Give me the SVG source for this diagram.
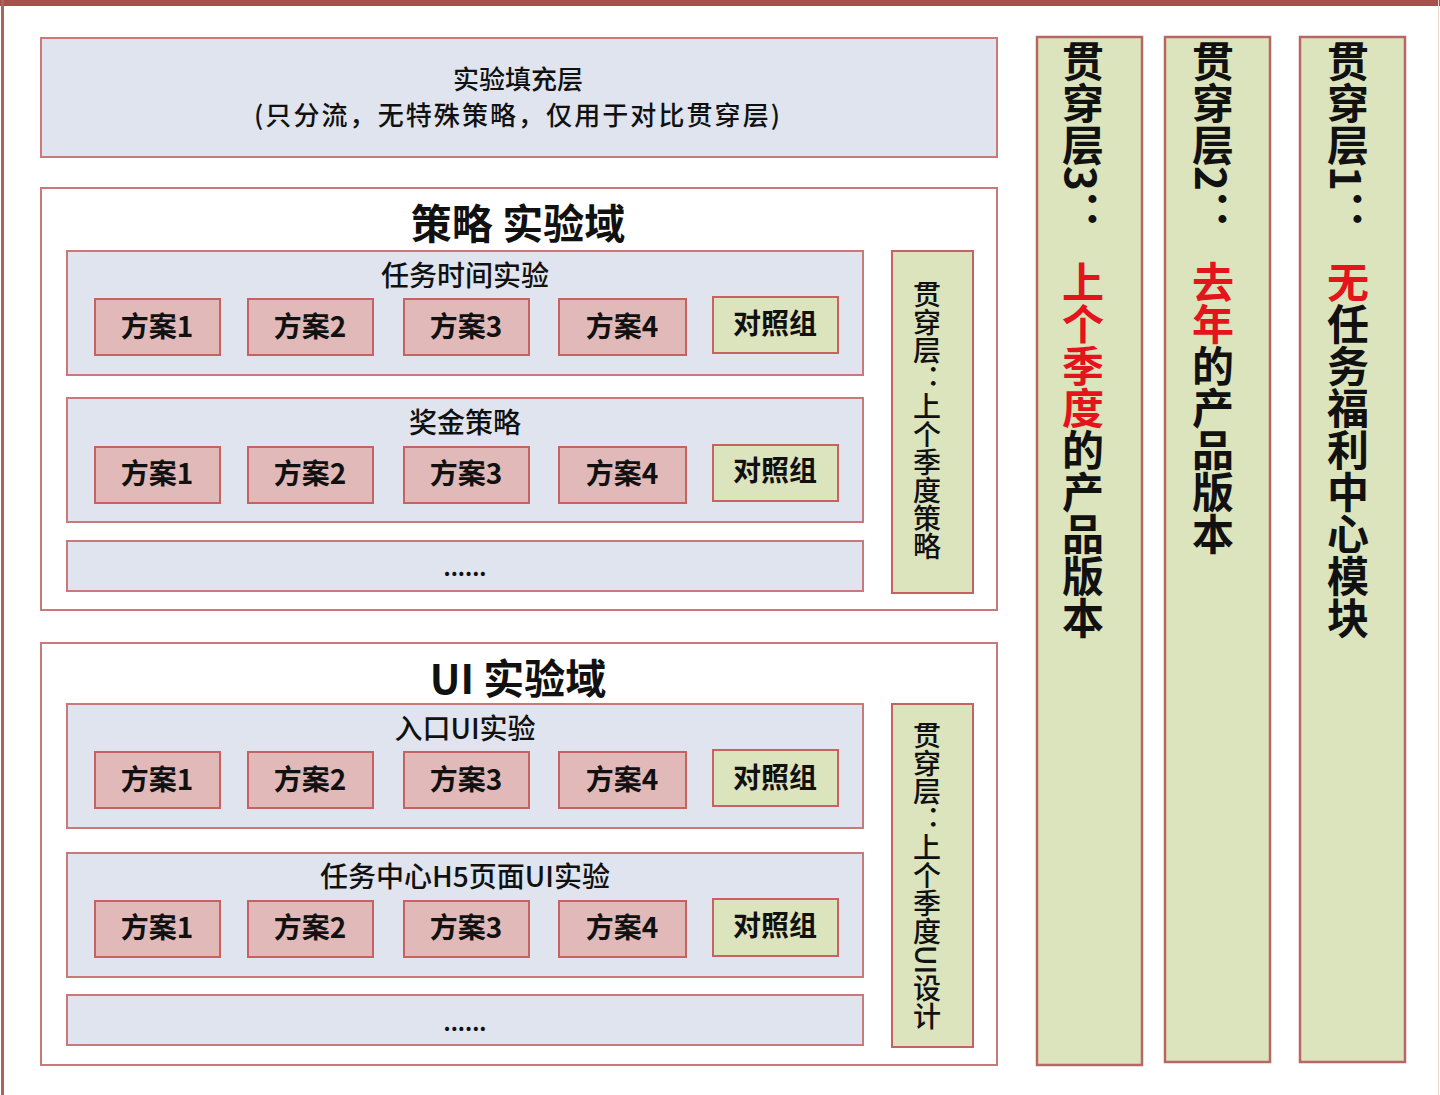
<svg xmlns="http://www.w3.org/2000/svg" width="1440" height="1095" viewBox="0 0 1440 1095">
<style>
text{font-family:"Noto Sans CJK SC","Noto Sans",sans-serif;fill:#111;dominant-baseline:central;text-anchor:middle}
.blue{fill:#dfe4ef;stroke:#c9797a;stroke-width:2}
.white{fill:#fff;stroke:#c9797a;stroke-width:2}
.pink{fill:#e2b9b9;stroke:#c6625f;stroke-width:2}
.green{fill:#dce4bd;stroke:#c6625f;stroke-width:2}
.col{fill:#dce4bd;stroke:#b96764;stroke-width:2.5}
.t26{font-size:28px;font-weight:500}
.top{font-size:26px;font-weight:500}
.opt{font-size:28px;font-weight:700}
.dom{font-size:41px;font-weight:700}
.vt{font-size:28px;font-weight:500;writing-mode:vertical-rl;text-anchor:start;dominant-baseline:auto}
.vc{font-size:42px;font-weight:700;writing-mode:vertical-rl;text-anchor:start;dominant-baseline:auto}
.red{fill:#e3141b}
.dots{font-size:22px;font-weight:700}
</style>
<rect x="0" y="0" width="1440" height="1095" fill="#fff"/>
<rect x="0" y="0" width="1440" height="6" fill="#a9504d"/>
<line x1="2.5" y1="0" x2="2.5" y2="1095" stroke="#b0605d" stroke-width="3"/>
<line x1="1438.5" y1="0" x2="1438.5" y2="1095" stroke="#ead6d6" stroke-width="1"/>

<g id="fill-layer">
<rect class="blue" x="41" y="38" width="956" height="119"/>
<text class="top" x="518" y="77">实验填充层</text>
<text class="top" x="517" y="113" textLength="526" lengthAdjust="spacing">(只分流，无特殊策略，仅用于对比贯穿层)</text>
</g>

<g id="strategy-domain">
<rect class="white" x="41" y="188" width="956" height="422"/>
<text class="dom" x="518" y="221">策略 实验域</text>
</g>

<g id="task-time-exp">
<rect class="blue" x="67" y="251" width="796" height="124"/>
<text class="t26" x="465" y="274">任务时间实验</text>
<g id="tt-1"><rect class="pink" x="95" y="299" width="125" height="56"/><text class="opt" x="157" y="325">方案1</text></g>
<g id="tt-2"><rect class="pink" x="248" y="299" width="125" height="56"/><text class="opt" x="310" y="325">方案2</text></g>
<g id="tt-3"><rect class="pink" x="404" y="299" width="125" height="56"/><text class="opt" x="466" y="325">方案3</text></g>
<g id="tt-4"><rect class="pink" x="559" y="299" width="127" height="56"/><text class="opt" x="622" y="325">方案4</text></g>
<g id="tt-c"><rect class="green" x="713" y="297" width="125" height="56"/><text class="opt" x="775" y="322">对照组</text></g>
</g>

<g id="bonus-exp">
<rect class="blue" x="67" y="398" width="796" height="124"/>
<text class="t26" x="465" y="421">奖金策略</text>
<g id="bn-1"><rect class="pink" x="95" y="447" width="125" height="56"/><text class="opt" x="157" y="472">方案1</text></g>
<g id="bn-2"><rect class="pink" x="248" y="447" width="125" height="56"/><text class="opt" x="310" y="472">方案2</text></g>
<g id="bn-3"><rect class="pink" x="404" y="447" width="125" height="56"/><text class="opt" x="466" y="472">方案3</text></g>
<g id="bn-4"><rect class="pink" x="559" y="447" width="127" height="56"/><text class="opt" x="622" y="472">方案4</text></g>
<g id="bn-c"><rect class="green" x="713" y="445" width="125" height="56"/><text class="opt" x="775" y="469">对照组</text></g>
</g>

<g id="strategy-more">
<rect class="blue" x="67" y="541" width="796" height="50"/>
<text class="dots" x="465" y="566">......</text>
</g>

<g id="strategy-through">
<rect class="green" x="892" y="251" width="81" height="342"/>
<text class="vt" x="927" y="280">贯穿层：上个季度策略</text>
</g>

<g id="ui-domain">
<rect class="white" x="41" y="643" width="956" height="422"/>
<text class="dom" x="518" y="676">UI 实验域</text>
</g>

<g id="entry-ui-exp">
<rect class="blue" x="67" y="704" width="796" height="124"/>
<text class="t26" x="465" y="727">入口UI实验</text>
<g id="eu-1"><rect class="pink" x="95" y="752" width="125" height="56"/><text class="opt" x="157" y="778">方案1</text></g>
<g id="eu-2"><rect class="pink" x="248" y="752" width="125" height="56"/><text class="opt" x="310" y="778">方案2</text></g>
<g id="eu-3"><rect class="pink" x="404" y="752" width="125" height="56"/><text class="opt" x="466" y="778">方案3</text></g>
<g id="eu-4"><rect class="pink" x="559" y="752" width="127" height="56"/><text class="opt" x="622" y="778">方案4</text></g>
<g id="eu-c"><rect class="green" x="713" y="750" width="125" height="56"/><text class="opt" x="775" y="776">对照组</text></g>
</g>

<g id="h5-ui-exp">
<rect class="blue" x="67" y="853" width="796" height="124"/>
<text class="t26" x="465" y="875">任务中心H5页面UI实验</text>
<g id="h5-1"><rect class="pink" x="95" y="901" width="125" height="56"/><text class="opt" x="157" y="926">方案1</text></g>
<g id="h5-2"><rect class="pink" x="248" y="901" width="125" height="56"/><text class="opt" x="310" y="926">方案2</text></g>
<g id="h5-3"><rect class="pink" x="404" y="901" width="125" height="56"/><text class="opt" x="466" y="926">方案3</text></g>
<g id="h5-4"><rect class="pink" x="559" y="901" width="127" height="56"/><text class="opt" x="622" y="926">方案4</text></g>
<g id="h5-c"><rect class="green" x="713" y="899" width="125" height="57"/><text class="opt" x="775" y="924">对照组</text></g>
</g>

<g id="ui-more">
<rect class="blue" x="67" y="995" width="796" height="50"/>
<text class="dots" x="465" y="1021">......</text>
</g>

<g id="ui-through">
<rect class="green" x="892" y="704" width="81" height="343"/>
<text class="vt" x="927" y="721">贯穿层：上个季度UI设计</text>
</g>

<g id="through-3">
<rect class="col" x="1037" y="37" width="105" height="1028"/>
<text class="vc" x="1083" y="40">贯穿层3：<tspan class="red" y="261">上个季度</tspan>的产品版本</text>
</g>

<g id="through-2">
<rect class="col" x="1165" y="37" width="105" height="1025"/>
<text class="vc" x="1213" y="40">贯穿层2：<tspan class="red" y="261">去年</tspan>的产品版本</text>
</g>

<g id="through-1">
<rect class="col" x="1300" y="37" width="105" height="1025"/>
<text class="vc" x="1348" y="40">贯穿层1：<tspan class="red" y="261">无</tspan>任务福利中心模块</text>
</g>

<g id="connectors"></g>
</svg>
